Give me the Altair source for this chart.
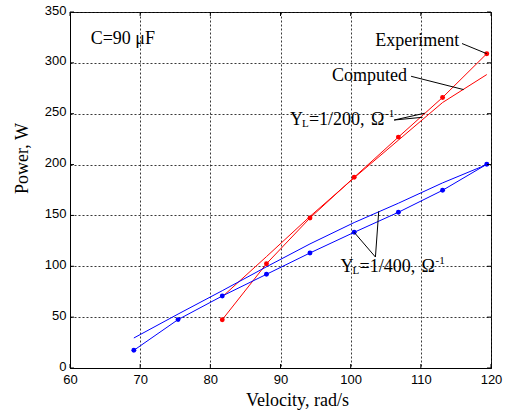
import altair as alt
import pandas as pd

# ---- data ----
vel_200 = [81.7, 88.0, 94.2, 100.5, 106.8, 113.1, 119.4]
exp_200 = [47.5, 102.5, 147.5, 187.5, 227.0, 266.0, 309.0]
comp_200 = [70.0, 109.5, 149.0, 187.0, 224.0, 261.0, 288.5]

vel_400 = [69.1, 75.4, 81.7, 88.0, 94.2, 100.5, 106.8, 113.1, 119.4]
exp_400 = [17.4, 47.6, 70.8, 92.1, 113.1, 133.4, 153.1, 174.7, 200.3]
comp_400 = [29.5, 53.0, 76.0, 99.5, 122.0, 143.0, 162.0, 182.0, 200.0]

x_ticks = [60, 70, 80, 90, 100, 110, 120]
y_ticks = [0, 50, 100, 150, 200, 250, 300, 350]

# leader lines (data coordinates): start v,p -> end v2,p2
leaders = [
    (115.87, 319.0, 119.4, 309.0),   # Experiment
    (108.61, 286.8, 116.1, 273.7),   # Computed
    (106.2, 243.8, 110.55, 250.5),   # Y_L=1/200 -> experiment line
    (106.2, 243.8, 110.25, 246.5),   # Y_L=1/200 -> computed line
    (103.53, 109.1, 100.5, 133.4),   # Y_L=1/400 -> experiment point
    (103.53, 109.1, 104.0, 154.1),   # Y_L=1/400 -> computed line
]

W, H = 421, 356

rows = []
for v, e, c in zip(vel_200, exp_200, comp_200):
    rows.append(dict(v=v, p=e, s="exp200"))
    rows.append(dict(v=v, p=c, s="comp200"))
for v, e, c in zip(vel_400, exp_400, comp_400):
    rows.append(dict(v=v, p=e, s="exp400"))
    rows.append(dict(v=v, p=c, s="comp400"))
df = pd.DataFrame(rows)

color_scale = alt.Scale(domain=["exp200", "comp200", "exp400", "comp400"],
                        range=["#ff0000", "#ff0000", "#0000ff", "#0000ff"])

xs = alt.Scale(domain=[60, 120], nice=False, zero=False)
ys = alt.Scale(domain=[0, 350], nice=False, zero=False)

x_axis = alt.Axis(values=x_ticks, title="Velocity, rad/s", grid=True,
                  ticks=False, tickSize=0, labelPadding=5, labelFlush=False,
                  titleX=227, titleY=37, titleBaseline="alphabetic", titleAnchor="start",
                  titleAlign="center")
y_axis = alt.Axis(values=y_ticks, title="Power, W", grid=True,
                  ticks=False, tickSize=0, labelPadding=4, labelFlush=False,
                  labelOffset=-2,
                  titleX=-43, titleY=146, titleAngle=270, titleBaseline="alphabetic",
                  titleAlign="center", titleAnchor="start")


def X(field="v"):
    return alt.X(f"{field}:Q", scale=xs, axis=x_axis)


def Y(field="p"):
    return alt.Y(f"{field}:Q", scale=ys, axis=y_axis)


lines = alt.Chart(df).mark_line(strokeWidth=1, clip=True).encode(
    x=X(), y=Y(),
    color=alt.Color("s:N", scale=color_scale, legend=None),
    detail="s:N",
)

pts = alt.Chart(df[df.s.str.startswith("exp")]).mark_circle(size=24, opacity=1).encode(
    x=X(), y=Y(),
    color=alt.Color("s:N", scale=color_scale, legend=None),
)

ldf = pd.DataFrame(leaders, columns=["v", "p", "v2", "p2"])
lead = alt.Chart(ldf).mark_rule(color="black", strokeWidth=1).encode(
    x=X(), y=Y(), x2="v2:Q", y2="p2:Q",
)

# inward tick marks on the box
ytdf = pd.DataFrame({"p": y_ticks})
xtdf = pd.DataFrame({"v": x_ticks})
tick_layers = [
    alt.Chart(ytdf).mark_rule(color="black", strokeWidth=1).encode(
        y=Y(), x=alt.value(0), x2=alt.value(4)),
    alt.Chart(ytdf).mark_rule(color="black", strokeWidth=1).encode(
        y=Y(), x=alt.value(W - 4), x2=alt.value(W)),
    alt.Chart(xtdf).mark_rule(color="black", strokeWidth=1).encode(
        x=X(), y=alt.value(H), y2=alt.value(H - 4)),
    alt.Chart(xtdf).mark_rule(color="black", strokeWidth=1).encode(
        x=X(), y=alt.value(0), y2=alt.value(4)),
]

FONT = "Liberation Serif"


def txt(v, p, s, size=18, dx=0, dy=0, align="left"):
    return alt.Chart(pd.DataFrame({"v": [v], "p": [p], "t": [s]})).mark_text(
        font=FONT, fontSize=size, align=align, baseline="alphabetic",
        dx=dx, dy=dy, color="black",
    ).encode(x=X(), y=Y(), text="t:N")


texts = [
    txt(62.95, 318.3, "C=90 \u03bcF"),
    txt(115.49, 316.3, "Experiment", align="right"),
    txt(108.04, 281.9, "Computed", align="right"),
    # Y_L=1/200, Ohm^-1
    txt(91.35, 239.1, "Y"),
    txt(91.35, 239.1, "L", size=11, dx=12, dy=2),
    txt(91.35, 239.1, "=1/200,", dx=19),
    txt(91.35, 239.1, "\u03a9", dx=81),
    txt(91.35, 239.1, "-1", size=11, dx=95, dy=-8),
    # Y_L=1/400, Ohm^-1
    txt(98.55, 94.6, "Y"),
    txt(98.55, 94.6, "L", size=11, dx=12, dy=2),
    txt(98.55, 94.6, "=1/400,", dx=19),
    txt(98.55, 94.6, "\u03a9", dx=81),
    txt(98.55, 94.6, "-1", size=11, dx=95, dy=-8),
]

chart = alt.layer(lines, pts, lead, *tick_layers, *texts).properties(
    width=W, height=H,
    autosize=alt.AutoSizeParams(type="none"),
    padding={"left": 70, "top": 12, "right": 18, "bottom": 48},
    background="white",
).configure_view(
    stroke="black", strokeWidth=1,
).configure_axis(
    domainColor="black", domainWidth=1,
    gridColor="#222222", gridDash=[2, 2], gridWidth=1, gridOpacity=0.9,
    labelFont="Liberation Sans", labelFontSize=13, labelColor="black",
    titleFont=FONT, titleFontSize=18, titleFontWeight="normal", titleColor="black",
)

chart.save("out.html", embed_options={"renderer": "svg", "actions": False})
